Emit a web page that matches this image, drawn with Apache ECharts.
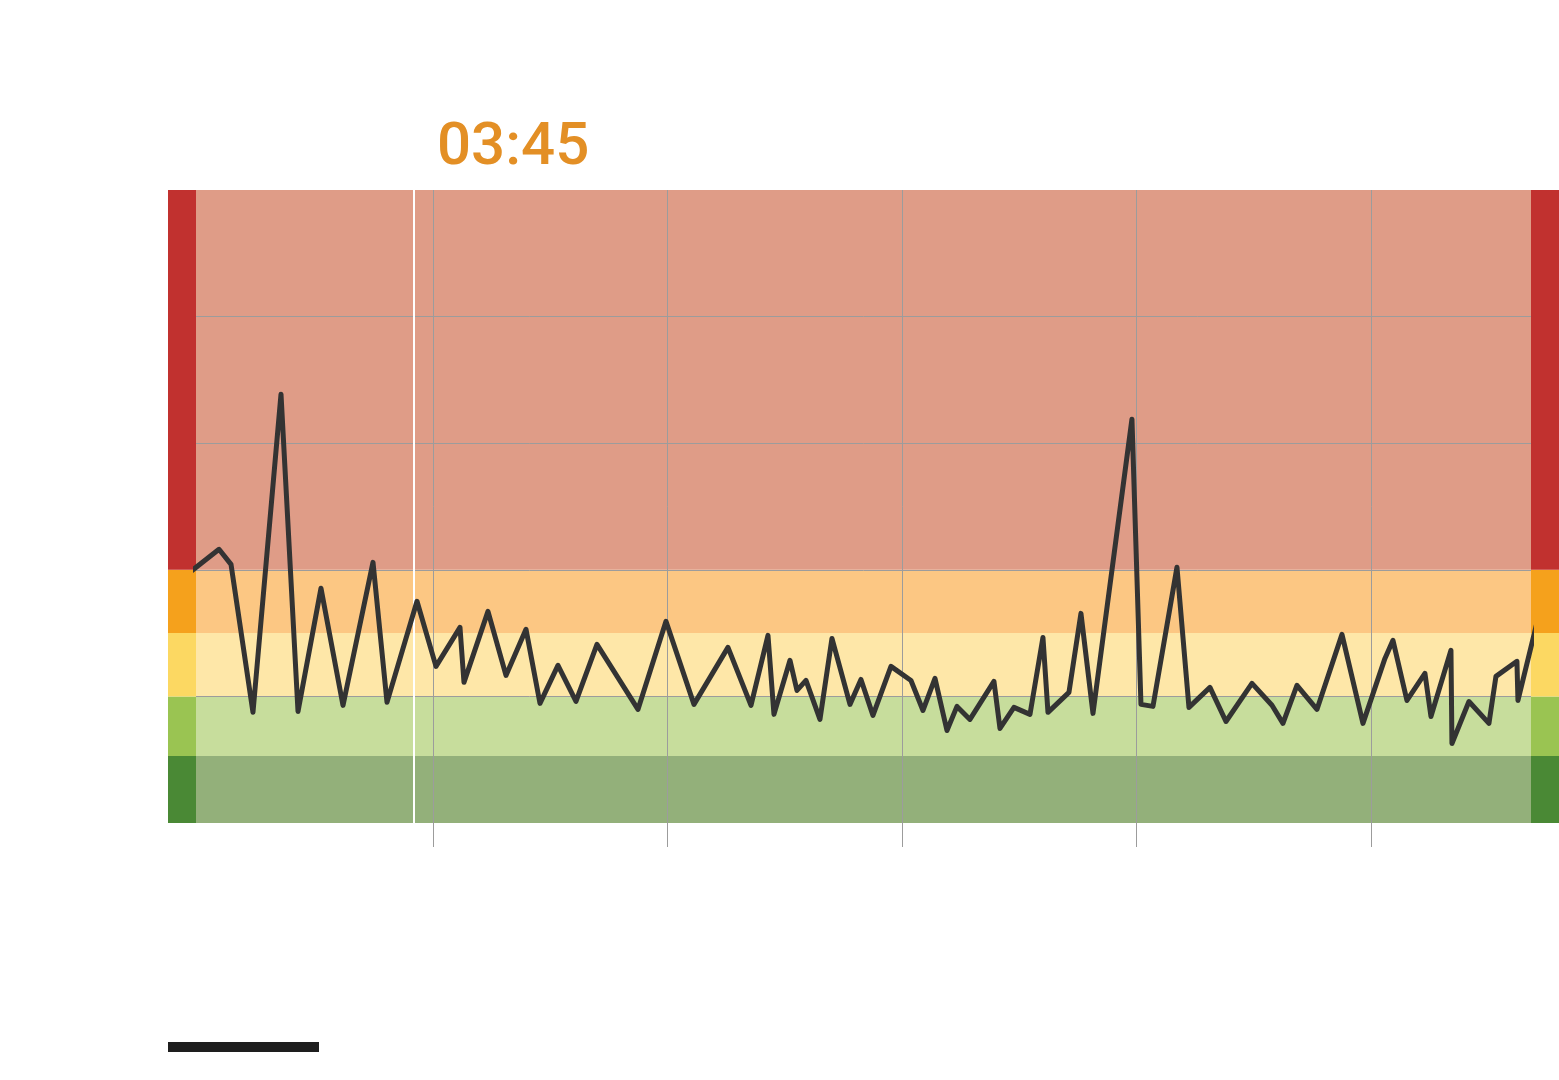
<!DOCTYPE html>
<html>
<head>
<meta charset="utf-8">
<script src="https://cdn.jsdelivr.net/npm/echarts@6/dist/echarts.min.js"></script>
<style>
html,body{margin:0;padding:0;background:#fff;}
#c{width:1559px;height:1080px;}
</style>
</head>
<body>
<div id="c"></div>
<script>
// ---- data (x: minutes, y: level) ----
const times = [-3.16, 5.29, 8.36, 13.98, 21.15, 25.50, 31.38, 37.01, 44.69, 48.27,
  55.95, 60.81, 66.95, 67.97, 74.11, 78.72, 83.84, 87.42, 92.02, 96.63,
  102.00, 112.49, 119.66, 126.82, 135.52, 141.41, 145.76, 147.29, 151.39, 153.18,
  155.48, 159.06, 162.13, 166.74, 169.55, 172.62, 177.23, 182.35, 185.42, 188.49,
  191.56, 194.12, 197.44, 203.58, 205.12, 208.70, 212.80, 216.12, 217.40, 222.77,
  225.84, 228.92, 238.89, 241.20, 244.27, 250.41, 253.48, 258.85, 262.95, 269.60,
  274.72, 277.53, 281.11, 286.23, 292.63, 298.00, 303.63, 305.68, 309.26, 313.86,
  315.40, 320.52, 320.77, 325.12, 330.24, 332.03, 337.40, 337.66, 343.29];
const values = [1.957, 2.162, 2.043, 0.874, 3.387, 0.881, 1.854, 0.929, 2.059, 0.953,
  1.751, 1.237, 1.545, 1.111, 1.672, 1.166, 1.530, 0.945, 1.245, 0.960,
  1.411, 0.897, 1.593, 0.937, 1.387, 0.929, 1.482, 0.858, 1.285, 1.047,
  1.126, 0.818, 1.458, 0.937, 1.134, 0.850, 1.237, 1.126, 0.889, 1.142,
  0.731, 0.921, 0.818, 1.119, 0.747, 0.913, 0.858, 1.466, 0.874, 1.032,
  1.656, 0.866, 3.190, 0.937, 0.921, 2.020, 0.913, 1.071, 0.802, 1.103,
  0.930, 0.787, 1.087, 0.897, 1.490, 0.787, 1.300, 1.443, 0.968, 1.182,
  0.842, 1.364, 0.628, 0.960, 0.787, 1.158, 1.277, 0.968, 1.680];
const xTicks = [60, 120, 180, 240, 300];
const xRange = [-0.6, 341];
const yRange = [0, 5];
const bandEdges = [0, 0.53, 1, 1.5, 2, 5];
const bandFill = ['#93B07A', '#C7DD9C', '#FEE7A8', '#FCC783', '#DF9C87'];
const stripFill = ['#4A8935', '#9AC452', '#FCD862', '#F5A11C', '#C1312F'];
const markerTime = 55.18;
const markerLabel = '03:45';

const lineData = times.map((t, i) => [t, values[i]]);
const bandAreas = bandFill.map((c, i) => [
  {yAxis: bandEdges[i], itemStyle: {color: c}},
  {yAxis: bandEdges[i + 1]}
]);
const gridLineColor = '#9c9c9c';

function stripSeries(idx) {
  return bandFill.map((c, i) => ({
    type: 'bar', xAxisIndex: idx, yAxisIndex: idx, stack: 's' + idx,
    barWidth: '100%', silent: true, animation: false,
    itemStyle: {color: stripFill[i]},
    data: [bandEdges[i + 1] - bandEdges[i]]
  }));
}
function hiddenCat(idx) {
  return {type: 'category', gridIndex: idx, data: ['a'], show: false};
}
function hiddenVal(idx) {
  return {type: 'value', gridIndex: idx, min: yRange[0], max: yRange[1], show: false, splitLine: {show: false}};
}

const chart = echarts.init(document.getElementById('c'), null, {renderer: 'canvas'});
chart.setOption({
  animation: false,
  backgroundColor: '#fff',
  title: {
    text: markerLabel, left: 437, top: 119, padding: 0,
    textStyle: {color: '#E38F25', fontFamily: 'Roboto', fontSize: 60, fontWeight: 500}
  },
  grid: [
    {left: 196, right: 28, top: 190, bottom: 257},
    {left: 168, width: 28, top: 190, bottom: 257},
    {left: 1531, width: 28, top: 190, bottom: 257}
  ],
  xAxis: [
    {
      type: 'value', gridIndex: 0, min: xRange[0], max: xRange[1], z: 3,
      axisLine: {show: false},
      axisLabel: {show: false},
      axisTick: {show: true, customValues: xTicks, length: 24, lineStyle: {color: gridLineColor, width: 1}},
      splitLine: {show: true, showMinLine: true, showMaxLine: true, lineStyle: {color: gridLineColor, width: 1}}
    },
    hiddenCat(1), hiddenCat(2)
  ],
  yAxis: [
    {
      type: 'value', gridIndex: 0, min: yRange[0], max: yRange[1], interval: 1, z: 3,
      axisLine: {show: false}, axisLabel: {show: false}, axisTick: {show: false},
      splitLine: {show: true, showMinLine: false, showMaxLine: false, lineStyle: {color: gridLineColor, width: 1}}
    },
    hiddenVal(1), hiddenVal(2)
  ],
  graphic: [
    {type: 'rect', left: 168, top: 1042, shape: {width: 151, height: 10}, style: {fill: '#1e1e1e'}}
  ],
  series: [
    {
      type: 'line', xAxisIndex: 0, yAxisIndex: 0, z: 0, silent: true,
      data: [], symbol: 'none',
      markArea: {silent: true, z: 0, label: {show: false}, data: bandAreas}
    },
    {
      type: 'line', xAxisIndex: 0, yAxisIndex: 0, z: 6, silent: true,
      data: lineData, symbol: 'none', clip: true,
      lineStyle: {color: '#333333', width: 5, join: 'round', cap: 'round'},
      markLine: {
        silent: true, symbol: 'none', z: 5, label: {show: false},
        lineStyle: {color: '#ffffff', width: 2, type: 'solid'},
        data: [{xAxis: markerTime}]
      }
    }
  ].concat(stripSeries(1), stripSeries(2))
});
</script>
</body>
</html>
